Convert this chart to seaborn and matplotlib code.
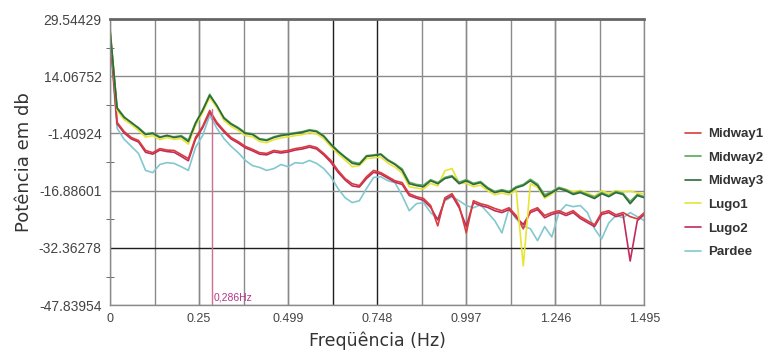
import numpy as np
import pandas as pd
import matplotlib
matplotlib.use("Agg")
import matplotlib.pyplot as plt
import seaborn as sns

# frequency axis of the spectra (Hz)
freq = np.linspace(0, 1.495, 76)

midway1 = [26.0, 1.6, -0.9, -2.5, -3.3, -6.0, -6.6, -5.5, -5.9, -6.0, -7.1, -8.2, -2.5, 0.5, 4.8, 1.6,
           -0.6, -2.5, -3.6, -4.9, -5.7, -6.6, -6.8, -6.0, -6.3, -6.0, -5.5, -5.2, -4.7, -5.2, -6.8, -8.7,
           -11.4, -13.6, -15.0, -15.5, -13.1, -11.4, -12.0, -13.1, -14.2, -14.7, -17.7, -18.5, -19.0, -20.9,
           -26.4, -18.8, -17.7, -20.9, -28.3, -19.6, -20.4, -20.9, -21.7, -22.3, -21.5, -23.6, -27.2, -22.3,
           -21.5, -23.6, -22.8, -22.3, -23.1, -22.3, -23.9, -25.0, -26.1, -22.8, -22.3, -23.4, -22.8, -23.9,
           -24.5, -22.8]
midway2 = [26.5, 5.6, 3.1, 1.4, 0.2, -1.5, -1.2, -2.3, -2.1, -2.3, -2.0, -3.2, 1.5, 5.0, 9.2, 6.0,
           2.9, 1.3, 0.2, -1.2, -1.5, -2.8, -3.1, -2.3, -1.8, -1.5, -1.2, -0.9, -0.4, -0.7, -2.0, -4.2,
           -6.1, -7.7, -9.1, -9.5, -7.4, -7.2, -6.9, -8.5, -9.6, -11.0, -14.6, -15.2, -15.4, -13.9,
           -14.7, -13.3, -12.8, -14.6, -13.9, -14.9, -14.4, -16.0, -17.1, -16.6, -17.1, -15.8, -15.2, -13.8,
           -15.1, -18.0, -17.1, -16.0, -16.6, -17.6, -17.1, -17.9, -18.6, -17.4, -18.2, -17.1, -17.6, -19.8,
           -17.9, -18.5]
midway3 = [27.0, 5.4, 2.9, 1.6, 0.0, -1.7, -1.4, -2.5, -1.9, -2.5, -2.2, -3.6, 1.3, 4.8, 8.9, 6.2,
           2.7, 1.1, 0.0, -1.4, -1.7, -3.0, -3.3, -2.5, -2.0, -1.7, -1.4, -1.1, -0.6, -0.9, -2.2, -4.4,
           -6.3, -7.9, -9.5, -9.8, -7.6, -7.4, -7.1, -8.7, -9.8, -11.4, -15.0, -15.5, -15.8, -14.2,
           -15.0, -13.6, -13.1, -15.0, -14.2, -15.2, -14.7, -16.3, -17.4, -16.9, -17.4, -16.1, -15.5, -14.2,
           -15.5, -18.5, -17.4, -16.3, -16.9, -17.9, -17.4, -18.2, -19.0, -17.7, -18.5, -17.4, -17.9, -20.4,
           -18.2, -18.8]
lugo1 = [27.5, 4.8, 2.3, 1.0, -0.6, -2.4, -2.0, -3.1, -2.5, -3.0, -2.8, -4.3, 0.7, 4.2, 8.3, 5.6,
         2.1, 0.5, -0.6, -2.0, -2.3, -3.6, -3.9, -3.1, -2.6, -2.3, -2.0, -1.7, -1.2, -1.5, -2.8, -5.0,
         -6.9, -8.6, -10.4, -10.1, -8.2, -8.0, -7.8, -9.4, -10.5, -12.1, -15.8, -16.2, -16.4, -14.9,
         -15.6, -11.5, -10.9, -14.8, -14.9, -15.8, -15.4, -16.9, -18.0, -17.5, -18.0, -16.7, -37.2, -15.0,
         -16.0, -18.9, -17.8, -16.0, -16.5, -17.2, -16.8, -17.5, -18.4, -16.9, -17.6, -16.9, -17.2, -17.0,
         -17.5, -17.8]
lugo2 = [25.5, 1.2, -1.3, -2.9, -3.7, -6.5, -7.0, -5.9, -6.3, -6.5, -7.6, -8.8, -3.0, 0.1, 4.3, 1.2,
         -1.0, -2.9, -4.0, -5.3, -6.1, -7.0, -7.2, -6.4, -6.7, -6.4, -5.9, -5.6, -5.1, -5.6, -7.2, -9.2,
         -11.9, -14.0, -15.6, -15.9, -13.6, -11.9, -12.4, -13.5, -14.6, -15.2, -18.2, -18.9, -19.5, -21.4,
         -24.8, -19.3, -18.2, -21.5, -26.5, -20.1, -20.9, -21.4, -22.3, -22.8, -22.0, -24.1, -26.0, -22.8,
         -22.0, -24.2, -23.3, -22.8, -23.6, -22.8, -24.4, -25.5, -26.6, -23.3, -22.8, -23.9, -23.3, -35.9,
         -25.0, -23.3]
pardee = [24.0, 0.0, -3.0, -4.9, -6.8, -11.4, -12.0, -9.8, -9.3, -9.5, -10.4, -11.4, -5.2, -2.0, 3.5, 0.0,
          -2.8, -4.9, -6.6, -8.7, -10.1, -10.6, -11.4, -10.9, -9.8, -10.4, -9.3, -9.5, -8.7, -9.5, -10.9, -13.1,
          -16.3, -18.8, -20.1, -19.6, -16.3, -13.3, -13.1, -14.2, -14.7, -18.2, -22.3, -20.4, -20.1, -22.8,
          -24.5, -19.6, -18.5, -19.6, -20.9, -21.5, -20.7, -22.8, -25.0, -28.3, -21.7, -24.5, -26.4, -27.2,
          -30.4, -26.6, -29.4, -22.8, -20.7, -21.2, -20.9, -22.8, -27.2, -29.9, -25.6, -23.6, -24.2, -22.8,
          -23.9, -25.0]

series_names = ["Midway1", "Midway2", "Midway3", "Lugo1", "Lugo2", "Pardee"]
series_values = [midway1, midway2, midway3, lugo1, lugo2, pardee]
colors = {"Midway1": "#d83c3c", "Midway2": "#5aa85a", "Midway3": "#2f6a3c",
          "Lugo1": "#e8e436", "Lugo2": "#c02c5c", "Pardee": "#82c8d0"}
draw_order = ["Pardee", "Lugo2", "Midway1", "Lugo1", "Midway2", "Midway3"]

y_ticks = [-47.83954, -32.36278, -16.88601, -1.40924, 14.06752, 29.54429]
x_ticks = [0, 0.2492, 0.4983, 0.7475, 0.9967, 1.2458, 1.495]
x_labels = ["0", "0.25", "0.499", "0.748", "0.997", "1.246", "1.495"]
peak_freq = 0.286
peak_db = 5.2

df = pd.concat([pd.DataFrame({"freq": freq, "db": v, "serie": n})
                for n, v in zip(series_names, series_values)])

sns.set_style("white")
plt.rcParams["font.family"] = ["Liberation Sans", "DejaVu Sans"]

fig = plt.figure(figsize=(7.69, 3.59), dpi=100)
ax = fig.add_axes([0.143, 0.150, 0.695, 0.797])

lines = {}
for name in draw_order:
    sub = df[df["serie"] == name]
    sns.lineplot(data=sub, x="freq", y="db", color=colors[name], linewidth=1.2,
                 ax=ax, legend=False, sort=False)
    lines[name] = ax.lines[-1]

ax.set_xlim(0, 1.495)
ax.set_ylim(y_ticks[0], y_ticks[-1])
ax.set_xticks(x_ticks)
ax.set_xticklabels(x_labels)
ax.set_xticks(np.linspace(0, 1.495, 13), minor=True)
ax.set_yticks(y_ticks)
ax.set_yticklabels([f"{t:.5f}" for t in y_ticks])
ax.set_yticks([(a + b) / 2 for a, b in zip(y_ticks[:-1], y_ticks[1:])], minor=True)

ax.grid(True, which="major", color="#8a8a8a", linewidth=1.0)
ax.grid(True, which="minor", axis="x", color="#8a8a8a", linewidth=1.0)
ax.set_axisbelow(True)

ax.tick_params(axis="x", which="major", labelsize=9, labelcolor="#444444", length=0, pad=6)
ax.tick_params(axis="y", which="major", labelsize=10, labelcolor="#444444", length=0, pad=6)
ax.tick_params(axis="y", which="minor", direction="inout", length=6, color="#555555", left=True)
ax.tick_params(axis="x", which="minor", length=0)
for side in ["left", "bottom", "right"]:
    ax.spines[side].set_color("#8a8a8a")
    ax.spines[side].set_linewidth(1.0)
ax.spines["top"].set_color("#666666")
ax.spines["top"].set_linewidth(2.0)

# a few darker grid lines, as in the original
fig.canvas.draw()
for tk in ax.xaxis.get_major_ticks() + ax.xaxis.get_minor_ticks():
    if abs(tk.get_loc() - 0.7475) < 2e-3 or abs(tk.get_loc() - 0.6229) < 2e-3:
        tk.gridline.set_color("#1e1e1e")
for tk in ax.yaxis.get_major_ticks():
    if abs(tk.get_loc() + 32.36278) < 1e-3:
        tk.gridline.set_color("#1e1e1e")

ax.set_xlabel("Freqüência (Hz)", fontsize=12.5, color="#333333", family=["DejaVu Sans"], labelpad=4)
ax.set_ylabel("Potência em db", fontsize=13, color="#333333", family=["DejaVu Sans"], labelpad=4)

# legend in the original order
handles = [lines[n] for n in series_names]
leg = ax.legend(handles, series_names, loc="center left", bbox_to_anchor=(0.875, 0.462),
                bbox_transform=fig.transFigure, frameon=False, handlelength=1.2,
                handletextpad=0.6, labelspacing=0.86, fontsize=9.5)
for txt in leg.get_texts():
    txt.set_color("#333333")
    txt.set_fontweight("bold")

ax.plot([peak_freq, peak_freq], [y_ticks[0], peak_db], color="#d07090", linewidth=1.0)
ax.text(peak_freq + 0.004, y_ticks[0] + 0.6, "0,286Hz", color="#b5338a", fontsize=7.5,
        ha="left", va="bottom")

fig.savefig("out.png", dpi=100)
